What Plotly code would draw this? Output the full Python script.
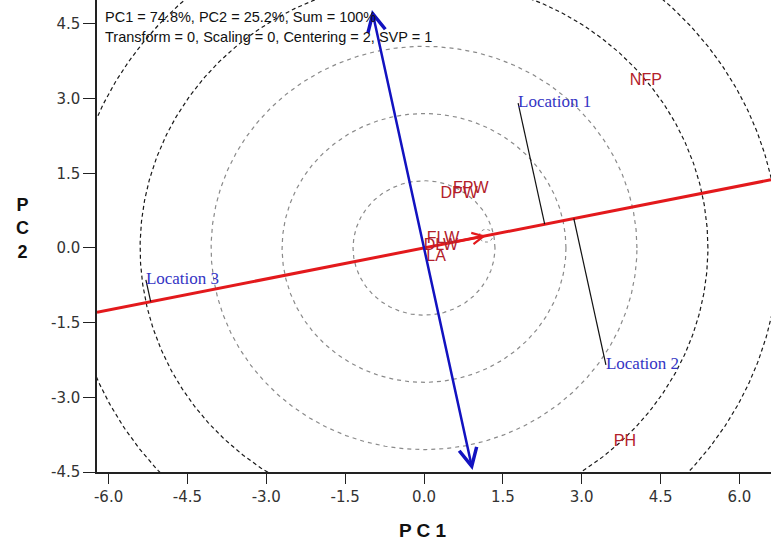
import numpy as np
import plotly.graph_objects as go

# ---------------- data ----------------
header_line1 = "PC1 = 74.8%, PC2 = 25.2%, Sum = 100%"
header_line2 = "Transform = 0, Scaling = 0, Centering = 2, SVP = 1"

trait_names = ["NFP", "PH", "FPW", "DPW", "FLW", "DLW", "LA"]
trait_x = [4.22, 3.82, 0.89, 0.67, 0.36, 0.32, 0.23]
trait_y = [3.35, -3.90, 1.18, 1.08, 0.18, 0.04, -0.18]

loc_names = ["Location 1", "Location 2", "Location 3"]
loc_x = [1.79, 3.46, -5.29]
loc_y = [2.91, -2.35, -0.64]

# average environment coordinate (arrow tip on the AEC abscissa)
aec_x = 1.18
aec_y = 0.245
aec_abscissa_x = [-6.22, 6.60]
aec_ordinate_x = [0.93, -0.99]
aec_ordinate_y = [-4.49, 4.78]

circle_radii = [1.35, 2.70, 4.05, 5.40, 6.75]
aec_circle_radius = 0.13

x_ticks = [-6.0, -4.5, -3.0, -1.5, 0.0, 1.5, 3.0, 4.5, 6.0]
y_ticks = [-4.5, -3.0, -1.5, 0.0, 1.5, 3.0, 4.5]
x_range = [-6.22, 6.60]
y_range = [-4.50, 4.98]

# ---------------- figure ----------------
RED = "#E3191C"
BLUE = "#1212C0"
TRAIT_RED = "#B3202A"
LOC_BLUE = "#3434C4"

fig = go.Figure()

theta = np.linspace(0, 2 * np.pi, 721)
for i, r in enumerate(circle_radii):
    col = "#8a8a8a" if i < 3 else "#1a1a1a"
    dash = "4px,4px" if i < 3 else "4px,3px"
    fig.add_trace(go.Scatter(
        x=r * np.cos(theta), y=r * np.sin(theta), mode="lines",
        line=dict(color=col, width=1.2, dash=dash),
        hoverinfo="skip", showlegend=False))

# small circle at the AEC point
fig.add_trace(go.Scatter(
    x=aec_x + aec_circle_radius * np.cos(theta),
    y=aec_y + aec_circle_radius * np.sin(theta),
    mode="lines", line=dict(color="#8a8a8a", width=1, dash="3px,3px"),
    hoverinfo="skip", showlegend=False))

# AEC abscissa (red line through origin and AEC point)
slope = aec_y / aec_x
fig.add_trace(go.Scatter(
    x=aec_abscissa_x, y=[v * slope for v in aec_abscissa_x], mode="lines",
    line=dict(color=RED, width=3), hoverinfo="skip", showlegend=False))

# projection lines from each location onto the AEC abscissa
norm = np.hypot(aec_x, aec_y)
ux, uy = aec_x / norm, aec_y / norm
for lx, ly in zip(loc_x, loc_y):
    t = lx * ux + ly * uy
    fig.add_trace(go.Scatter(
        x=[lx, t * ux], y=[ly, t * uy], mode="lines",
        line=dict(color="#111111", width=1.2), hoverinfo="skip", showlegend=False))

# trait labels
fig.add_trace(go.Scatter(
    x=trait_x, y=trait_y, mode="text", text=trait_names,
    textposition="middle center",
    textfont=dict(family="Liberation Sans, Arial", size=16, color=TRAIT_RED),
    hoverinfo="skip", showlegend=False))

# location labels
fig.add_trace(go.Scatter(
    x=loc_x, y=loc_y, mode="text", text=loc_names,
    textposition="middle right",
    textfont=dict(family="Liberation Serif, Times New Roman", size=17, color=LOC_BLUE),
    hoverinfo="skip", showlegend=False))

annotations = []
# AEC ordinate: double-headed blue arrow
annotations.append(dict(
    x=aec_ordinate_x[1], y=aec_ordinate_y[1], ax=aec_ordinate_x[0], ay=aec_ordinate_y[0],
    xref="x", yref="y", axref="x", ayref="y", text="", showarrow=True,
    arrowhead=5, startarrowhead=5, arrowside="end+start", arrowsize=1.4,
    startarrowsize=1.4, arrowwidth=2.5, arrowcolor=BLUE, standoff=0, startstandoff=0))
# AEC arrow on the abscissa
annotations.append(dict(
    x=aec_x, y=aec_y, ax=aec_x * 0.5, ay=aec_y * 0.5,
    xref="x", yref="y", axref="x", ayref="y", text="", showarrow=True,
    arrowhead=5, arrowsize=0.9, arrowwidth=2.5, arrowcolor=RED, standoff=0))

# header text
annotations.append(dict(
    x=0.009, y=0.964, xref="paper", yref="paper", xanchor="left", yanchor="middle",
    text=header_line1, showarrow=False,
    font=dict(family="Liberation Sans, Arial", size=14.5, color="#111111")))
annotations.append(dict(
    x=0.009, y=0.922, xref="paper", yref="paper", xanchor="left", yanchor="middle",
    text=header_line2, showarrow=False,
    font=dict(family="Liberation Sans, Arial", size=14.5, color="#111111")))

# axis titles
annotations.append(dict(
    x=0.4837, y=-0.123, xref="paper", yref="paper", xanchor="center", yanchor="middle",
    text="<b>P C 1</b>", showarrow=False,
    font=dict(family="Liberation Sans, Arial", size=19, color="#111111")))
annotations.append(dict(
    x=-0.111, y=0.515, xref="paper", yref="paper", xanchor="center", yanchor="middle",
    text="<b>P<br>C<br>2</b>", showarrow=False, align="center",
    font=dict(family="Liberation Sans, Arial", size=18, color="#111111")))

fig.update_layout(
    width=771, height=545,
    margin=dict(l=97, r=0, t=0, b=73),
    plot_bgcolor="white", paper_bgcolor="white",
    showlegend=False,
    annotations=annotations,
    xaxis=dict(range=x_range, tickvals=x_ticks, ticktext=[f"{v:.1f}" for v in x_ticks],
               showgrid=False, zeroline=False, showline=True, linecolor="#222222",
               linewidth=1.5, ticks="outside", ticklen=10, tickcolor="#222222",
               tickwidth=1.2, mirror=False,
               tickfont=dict(family="DejaVu Sans", size=15, color="#333333")),
    yaxis=dict(range=y_range, tickvals=y_ticks, ticktext=[f"{v:.1f}" for v in y_ticks],
               showgrid=False, zeroline=False, showline=True, linecolor="#222222",
               linewidth=1.5, ticks="outside", ticklen=12, tickcolor="#222222",
               tickwidth=1.2, mirror=False,
               tickfont=dict(family="DejaVu Sans", size=15, color="#333333")),
)

fig.write_html("out.html", config={"displayModeBar": False},
               post_script="document.body.style.margin='0';document.body.style.overflow='hidden';")
